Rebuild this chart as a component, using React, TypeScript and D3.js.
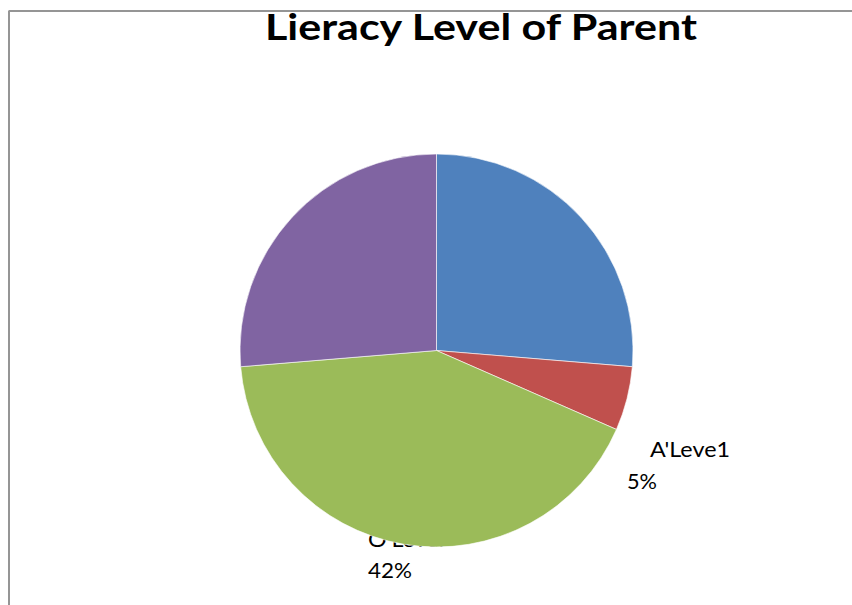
import React from "react";
import * as d3 from "d3";

const categories = ["Degree", "A'Leve1", "O'Level", "Other"];
const values = [5, 1, 8, 5];
const colors = ["#4F81BD", "#C0504D", "#9BBB59", "#8064A2"];
const title = "Lieracy Level of Parent";

const W = 852;
const H = 605;
const cx = 436.5;
const cy = 350.5;
const R = 196.5;

export default function App() {
  const total = d3.sum(values);
  const pie = d3.pie<number>().sort(null).value((d) => d);
  const arcs = pie(values);
  const arc = d3.arc<d3.PieArcDatum<number>>().innerRadius(0).outerRadius(R);
  const pct = (v: number) => `${Math.round((v / total) * 100)}%`;

  return (
    <svg
      width={W}
      height={H}
      style={{ position: "absolute", left: 0, top: 0, background: "#fff" }}
    >
      <line x1={8.5} y1={11} x2={W} y2={11} stroke="#959595" strokeWidth={2} />
      <line x1={9} y1={11} x2={9} y2={H} stroke="#959595" strokeWidth={2} />
      <text
        x={481}
        y={40}
        textAnchor="middle"
        fontFamily="Lato, 'Open Sans', sans-serif"
        fontWeight="bold"
        fontSize={36}
        textLength={432}
        lengthAdjust="spacingAndGlyphs"
        fill="#000"
      >
        {title}
      </text>
      <g fontFamily="Lato, 'Open Sans', sans-serif" fontSize={21} fill="#000">
        <text x={650} y={457} textLength={80} lengthAdjust="spacingAndGlyphs">{categories[1]}</text>
        <text x={627} y={489} textLength={30} lengthAdjust="spacingAndGlyphs">{pct(values[1])}</text>
        <text x={368} y={547} textLength={76} lengthAdjust="spacingAndGlyphs">{categories[2]}</text>
        <text x={368} y={578} textLength={44} lengthAdjust="spacingAndGlyphs">{pct(values[2])}</text>
      </g>
      <g transform={`translate(${cx},${cy})`}>
        {arcs.map((a, i) => (
          <path key={categories[i]} d={arc(a) || ""} fill={colors[i]} stroke="#fff" strokeWidth={0.6} />
        ))}
      </g>
    </svg>
  );
}
